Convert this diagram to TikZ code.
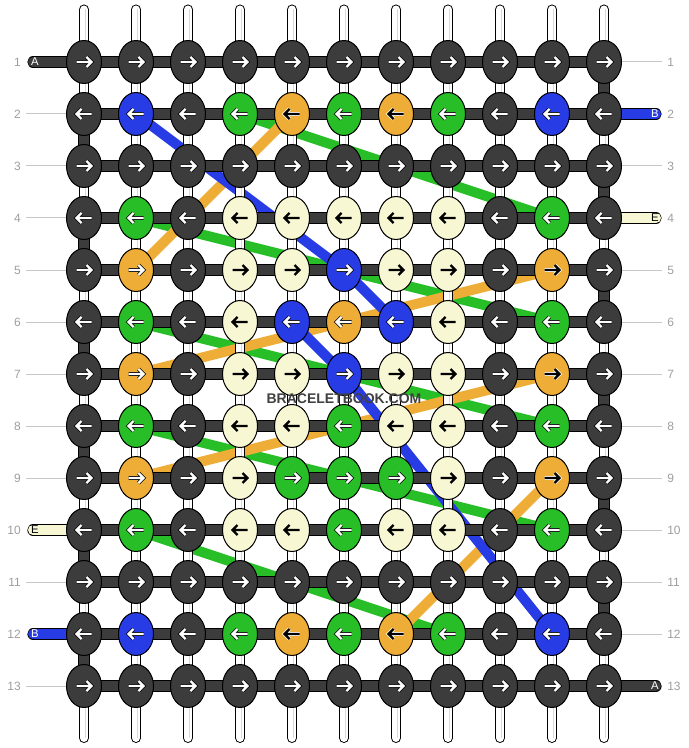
\documentclass[tikz,border=0pt]{standalone}
\usepackage{fontspec}
\setmainfont{Liberation Sans}
\usetikzlibrary{shapes.geometric}

% knot colours
\definecolor{kd}{HTML}{3C3C3C}
\definecolor{kb}{HTML}{283CE6}
\definecolor{kg}{HTML}{28BE28}
\definecolor{ko}{HTML}{EEAD37}
\definecolor{kp}{HTML}{EEAD37}
\definecolor{kc}{HTML}{F7F7D4}
% arrow colours
\colorlet{ad}{white}
\colorlet{ab}{white}
\colorlet{ag}{white}
\colorlet{ap}{white}
\colorlet{ao}{black}
\colorlet{ac}{black}
% arrow halo colours
\colorlet{hd}{black}
\colorlet{hb}{black}
\colorlet{hg}{black}
\colorlet{hp}{black}
\colorlet{ho}{white}
\colorlet{hc}{kc}

\tikzset{
  knot/.style={ellipse, draw=black, line width=0.75pt, minimum width=26.25pt, minimum height=32.25pt, inner sep=0pt},
  warp/.style={draw=black, line width=0.75pt, double=white, double distance=6pt, line cap=round},
  warpshade/.style={draw=black!15, line width=0.75pt},
  rowline/.style={draw=black, line width=0.5pt, double=#1, double distance=7.5pt, line cap=round, line join=round},
  diag/.style={draw=#1, line width=7.5pt},
  arrhalo/.style={line width=2.7pt, line cap=butt, line join=miter},
  arrline/.style={line width=1.65pt, line cap=butt, line join=miter},
  numlabel/.style={text=black!38, font=\fontsize{9}{10}\selectfont, inner sep=0pt},
  taillab/.style={font=\fontsize{8.5}{10}\selectfont, inner sep=0pt},
  guide/.style={draw=black!22, line width=0.75pt}
}

\begin{document}
\begin{tikzpicture}[x=0.75pt,y=0.75pt,yscale=-1,xscale=1]
\useasboundingbox (0,0) rectangle (688,748);

% knot grid
\foreach \r in {1,...,13}
  \foreach \c in {1,...,11}
    \coordinate (c-\r-\c) at ({84+52*(\c-1)},{62+52*(\r-1)});

% tail ends
\coordinate (t-a-l) at (33,62);
\coordinate (t-a-r) at (656,686);
\coordinate (t-b-r) at (656,114);
\coordinate (t-b-l) at (33,634);
\coordinate (t-e-r) at (656,218);
\coordinate (t-e-l) at (33,530);

% colour paths behind the knots
\foreach \s/\ra/\ca/\rb/\cb in {g/2/4/4/10, g/4/2/6/10, g/6/2/8/10, g/8/2/10/10, g/10/2/12/8,
    o/2/5/5/2, o/5/10/7/2, o/7/10/9/2, o/9/10/12/7,
    b/2/2/5/6, b/5/6/6/7, b/6/5/7/6, b/7/6/12/10}
  \draw[diag=k\s] (c-\ra-\ca) -- (c-\rb-\cb);

% white warp strings
\foreach \c in {1,...,11} {
  \coordinate (w-t-\c) at ({84+52*(\c-1)},9.5);
  \coordinate (w-b-\c) at ({84+52*(\c-1)},738);
  \draw[warp] (w-t-\c) -- (w-b-\c);
  \draw[warpshade] ([xshift=0.75pt]w-t-\c) -- ([xshift=0.75pt]w-b-\c);
}

% knotting string A
\draw[rowline=kd] (t-a-l) -- (c-1-11) -- (c-2-11) -- (c-2-1) -- (c-3-1) -- (c-3-11)
  -- (c-4-11) -- (c-4-1) -- (c-5-1) -- (c-5-11) -- (c-6-11) -- (c-6-1) -- (c-7-1)
  -- (c-7-11) -- (c-8-11) -- (c-8-1) -- (c-9-1) -- (c-9-11) -- (c-10-11) -- (c-10-1)
  -- (c-11-1) -- (c-11-11) -- (c-12-11) -- (c-12-1) -- (c-13-1) -- (c-13-11) -- (t-a-r);

% strings B and E
\draw[rowline=kb] (c-2-11) -- (t-b-r);
\draw[rowline=kb] (t-b-l) -- (c-12-1);
\draw[rowline=kc] (c-4-11) -- (t-e-r);
\draw[rowline=kc] (t-e-l) -- (c-10-1);

% knots
\foreach \r/\cols in {1/{d,d,d,d,d,d,d,d,d,d,d}, 2/{d,b,d,g,o,g,o,g,d,b,d},
    3/{d,d,d,d,d,d,d,d,d,d,d}, 4/{d,g,d,c,c,c,c,c,d,g,d},
    5/{d,p,d,c,c,b,c,c,d,o,d}, 6/{d,g,d,c,b,p,b,c,d,g,d},
    7/{d,p,d,c,c,b,c,c,d,o,d}, 8/{d,g,d,c,c,g,c,c,d,g,d},
    9/{d,p,d,c,g,g,g,c,d,o,d}, 10/{d,g,d,c,c,g,c,c,d,g,d},
    11/{d,d,d,d,d,d,d,d,d,d,d}, 12/{d,b,d,g,o,g,o,g,d,b,d},
    13/{d,d,d,d,d,d,d,d,d,d,d}} {
  \pgfmathtruncatemacro\d{2*mod(\r,2)-1}
  \foreach \col [count=\c] in \cols {
    \node[knot, fill=k\col] (k-\r-\c) at (c-\r-\c) {};
    \begin{scope}[shift={(c-\r-\c)}, xscale=\d]
      \draw[arrhalo, draw=h\col] (-7.5,0) -- (7.5,0) (2.5,-5) -- (7.5,0) -- (2.5,5);
      \draw[arrline, draw=a\col] (-7.5,0) -- (7.5,0) (2.5,-5) -- (7.5,0) -- (2.5,5);
    \end{scope}
  }
}

% tail letters
\node[taillab, text=white] (lab-a-l) at (35,62) {A};
\node[taillab, text=white] (lab-a-r) at (655,686) {A};
\node[taillab, text=white] (lab-b-r) at (655,114) {B};
\node[taillab, text=white] (lab-b-l) at (35,634) {B};
\node[taillab, text=black] (lab-e-r) at (655,218) {E};
\node[taillab, text=black] (lab-e-l) at (35,530) {E};

% row numbers
\foreach \r in {1,...,13} {
  \node[numlabel, anchor=east] (n-l-\r) at (21,{62+52*(\r-1)}) {\r};
  \node[numlabel, anchor=west] (n-r-\r) at (667,{62+52*(\r-1)}) {\r};
}
\foreach \r in {2,...,9,11,13}
  \draw[guide] ([xshift=3.75pt]n-l-\r.east) -- (k-\r-1.west);
\foreach \r in {1,3,5,6,7,8,9,10,11,12}
  \draw[guide] (k-\r-11.east) -- ([xshift=-3.75pt]n-r-\r.west);

\node[font=\bfseries\fontsize{10.5}{12}\selectfont, text=black!75, inner sep=0pt] (mark) at (344,399) {BRACELETBOOK.COM};

\end{tikzpicture}
\end{document}
